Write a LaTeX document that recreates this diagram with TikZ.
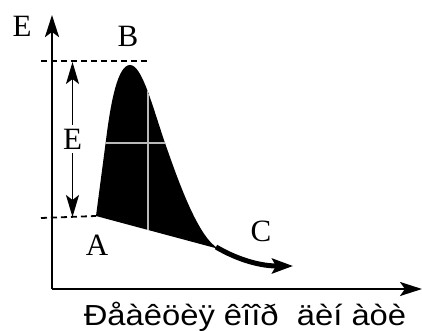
\documentclass[tikz,border=0pt]{standalone}
\usepackage{fontspec}
\setmainfont{Liberation Serif}
\newfontfamily\axissans{Liberation Sans}
\usepackage{tikz}
\usetikzlibrary{arrows.meta}

% outline of the barrier region
\newcommand{\barrierpath}{(96,216) -- (106,140)
  .. controls (111,100) and (118,65) .. (130,65)
  .. controls (142,65) and (152,105) .. (165,143)
  .. controls (178,180) and (198,238) .. (219,249) -- cycle}

\begin{document}
\begin{tikzpicture}[x=1pt, y=-1pt,
  axis/.style={line width=2.4pt, -{Stealth[length=22pt, width=14pt, inset=5pt]}},
  dimarrow/.style={line width=1.9pt, -{Stealth[length=22pt, width=13pt, inset=5pt]}},
  level/.style={line width=1.8pt, dash pattern=on 6pt off 4pt},
  lbl/.style={font=\fontsize{31}{33}\selectfont, inner sep=0pt}]
  \useasboundingbox (0,0) rectangle (422,331);
  % axes
  \coordinate (O) at (52,289);
  \coordinate (ytop) at (52,15);
  \coordinate (xend) at (422,289);
  \draw[axis] (O) -- (ytop);
  \draw[axis] (O) -- (xend);
  \node[lbl] (Eaxis) at (22,26) {E};
  \node[lbl, font=\axissans\fontsize{29}{31}\selectfont, xscale=1.13,
    transform shape] (xlabel) at (245,317)
    {Ðåàêöèÿ êîîð\ \ äèí àòè};
  % energy levels
  \coordinate (A0) at (96,216);
  \coordinate (topl) at (41,61);
  \coordinate (topr) at (148,61);
  \coordinate (botl) at (41,218);
  \draw[level] (topl) -- (topr);
  \draw[level] (botl) -- (A0);
  % barrier
  \fill[black] \barrierpath;
  \begin{scope}
    \clip \barrierpath;
    \draw[gray!55, line width=1.5pt] (148,60) -- (148,245);
    \draw[gray!55, line width=1.5pt] (90,143) -- (180,143);
  \end{scope}
  \coordinate (C0) at (216,247);
  \coordinate (tail) at (293,266);
  \draw[line width=5pt, -{Stealth[length=21pt, width=15pt, inset=4pt]}]
    (C0) .. controls (240,261) and (262,266) .. (tail);
  % point labels
  \node[lbl] (B) at (128,36) {B};
  \node[lbl] (A) at (97,245) {A};
  \node[lbl] (C) at (261,231) {C};
  % activation energy
  \node[lbl, inner sep=4pt] (Ediff) at (72.5,139) {E};
  \coordinate (Etop) at (72.5,62);
  \coordinate (Ebot) at (72.5,217);
  \draw[dimarrow] (Ediff) -- (Etop);
  \draw[dimarrow] (Ediff) -- (Ebot);
\end{tikzpicture}
\end{document}
